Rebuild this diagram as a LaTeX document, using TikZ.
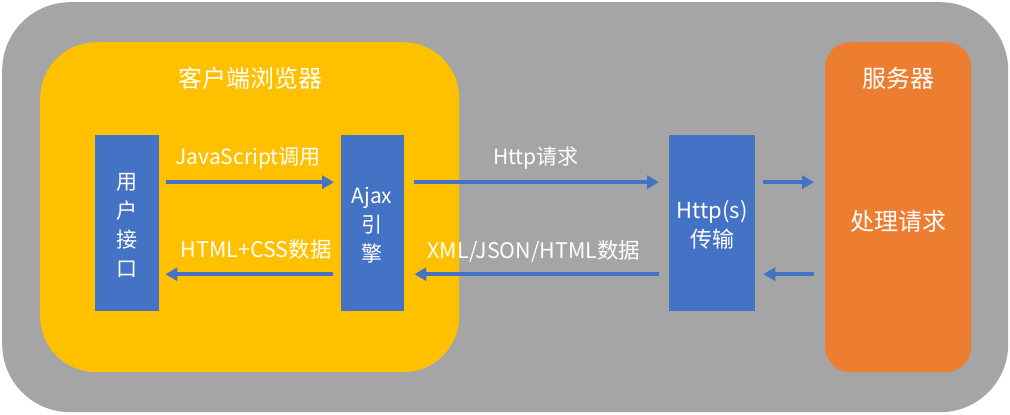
\documentclass[tikz,border=0pt]{standalone}
\usepackage{fontspec}
\setmainfont{Noto Sans CJK SC}
\usetikzlibrary{arrows.meta}
\definecolor{cgray}{HTML}{A5A5A5}
\definecolor{cyellow}{HTML}{FFC000}
\definecolor{cblue}{HTML}{4472C4}
\definecolor{corange}{HTML}{ED7D31}
\begin{document}
\begin{tikzpicture}[x=1pt,y=-1pt,
  panel/.style={draw=none,rounded corners=#1,inner sep=0pt,anchor=north west},
  bluebox/.style={fill=cblue,draw=none,inner sep=0pt,anchor=north west},
  txt/.style={text=white,inner sep=0pt,font=\fontsize{#1}{#1}\selectfont},
  vtxt/.style={text=white,inner sep=0pt,align=center,font=\fontsize{21}{29}\selectfont},
  arr/.style={draw=cblue,line width=4pt,-{Triangle[length=12pt,width=13pt]}}]
\useasboundingbox (0,0) rectangle (1010,415);
% containers
\node[panel=68,fill=cgray,minimum width=1006pt,minimum height=410pt] (outer) at (2,2) {};
\node[panel=56,fill=cyellow,minimum width=419pt,minimum height=330pt] (client) at (40,42) {};
\node[panel=25,fill=corange,minimum width=146pt,minimum height=330pt] (server) at (825,42) {};
% blue boxes
\node[bluebox,minimum width=64pt,minimum height=176pt] (ui) at (95,135) {};
\node[bluebox,minimum width=63pt,minimum height=176pt] (ajax) at (341,135) {};
\node[bluebox,minimum width=86pt,minimum height=176pt] (trans) at (669,135) {};
% titles
\node[txt=24] (tclient) at (250,78) {客户端浏览器};
\node[txt=24] (tserver) at (898,78) {服务器};
\node[txt=24] (tproc) at (898,221) {处理请求};
% box texts
\node[vtxt] (tui) at (127,225) {用\\户\\接\\口};
\node[vtxt] (tajax) at (372,225) {Ajax\\引\\擎};
\node[vtxt,font=\fontsize{22}{29}\selectfont] (ttrans) at (712,225) {Http(s)\\传输};
% helper coordinates
\path ([yshift=41pt]trans.east) coordinate (te1) ([yshift=-51pt]trans.east) coordinate (te2);
\path (te1 -| server.west) coordinate (sw1) (te2 -| server.west) coordinate (sw2);
% arrows
\draw[arr] ([xshift=7pt,yshift=41pt]ui.east) -- ([xshift=-7pt,yshift=41pt]ajax.west);
\draw[arr] ([xshift=-8pt,yshift=-51pt]ajax.west) -- ([xshift=6pt,yshift=-51pt]ui.east);
\draw[arr] ([xshift=10pt,yshift=41pt]ajax.east) -- ([xshift=-10pt,yshift=41pt]trans.west);
\draw[arr] ([xshift=-10pt,yshift=-51pt]trans.west) -- ([xshift=10pt,yshift=-51pt]ajax.east);
\draw[arr] ([xshift=8pt]te1) -- ([xshift=-11pt]sw1);
\draw[arr] ([xshift=-11pt]sw2) -- ([xshift=8pt]te2);
% arrow labels
\node[txt=21] (ljs) at (248,158) {JavaScript调用};
\node[txt=21.5] (lhtml) at (256,249) {HTML+CSS数据};
\node[txt=21] (lhttp) at (536,158) {Http请求};
\node[txt=21.5] (lxml) at (534,251) {XML/JSON/HTML数据};
\end{tikzpicture}
\end{document}
